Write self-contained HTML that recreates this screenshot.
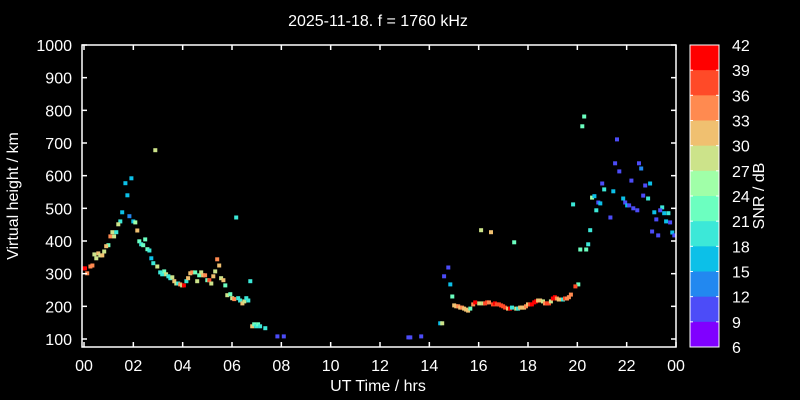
<!DOCTYPE html>
<html><head><meta charset="utf-8"><style>
html,body{margin:0;padding:0;background:#000;width:800px;height:400px;overflow:hidden}
svg text{font-family:"Liberation Sans",sans-serif;fill:#fff}
</style></head><body>
<svg id="chart" width="800" height="400" xmlns="http://www.w3.org/2000/svg">
<rect width="800" height="400" fill="#000"/>
<text x="378" y="26" font-size="16" text-anchor="middle">2025-11-18. f = 1760 kHz</text>
<text x="378" y="391" font-size="16" text-anchor="middle">UT Time / hrs</text>
<text transform="translate(18,196) rotate(-90)" font-size="16" text-anchor="middle">Virtual height / km</text>
<text transform="translate(764,196) rotate(-90)" font-size="16" text-anchor="middle">SNR / dB</text>
<g id="marks"></g>
<g id="axes"></g>
<g id="cbar"></g>
</svg>
<script>
const xTickLabels=["00","02","04","06","08","10","12","14","16","18","20","22","00"];
const yTickValues=[100,200,300,400,500,600,700,800,900,1000];
const cbarLabels=[42,39,36,33,30,27,24,21,18,15,12,9,6];
const bandColors=["#ff0000","#ff4a28","#ff8a50","#f0c070","#cce38a","#a0ffa8","#6cffc0","#3ce8d8","#0cc0e8","#2288f0","#4c4cf8","#8000ff"];
const times=[2.89,1.92,1.68,1.76,1.55,1.84,2.0,2.08,1.47,1.39,1.15,1.31,1.07,1.22,0.99,0.90,0.82,0.42,0.58,0.66,0.74,0.50,0.04,0.0,0.26,0.34,0.13,2.16,2.24,2.48,2.32,2.40,2.57,2.65,2.73,2.81,2.97,3.09,3.17,3.25,3.33,3.42,3.50,3.58,3.66,3.74,3.82,3.90,3.98,4.05,4.15,4.22,4.31,4.39,4.51,4.59,4.67,4.75,4.83,4.91,5.0,5.08,5.16,5.24,5.32,5.40,5.48,5.56,5.65,5.73,5.81,5.93,6.01,6.09,6.17,6.25,6.33,6.42,6.50,6.58,6.66,6.74,6.82,6.90,6.98,7.06,7.14,7.35,7.84,8.1,
16.1,16.5,17.44,20.52,20.44,20.12,20.36,14.77,14.60,14.85,14.93,14.44,14.52,13.15,13.23,13.67,20.04,19.92,
15.01,15.09,15.17,15.25,15.33,15.41,15.49,15.57,15.66,15.78,15.86,16.02,16.18,16.26,16.34,16.42,16.58,16.66,16.74,16.82,16.91,16.99,17.07,17.19,17.27,17.35,17.52,17.60,17.68,17.76,17.84,17.92,18.0,18.08,18.16,18.25,18.33,18.41,18.49,18.61,18.69,18.77,18.85,18.93,19.01,19.09,19.17,19.25,19.34,19.42,19.50,19.58,19.66,19.74,
20.28,20.20,21.61,21.53,22.50,21.70,22.59,22.19,21.01,21.09,21.46,22.95,22.75,22.67,22.87,20.60,20.69,21.86,20.85,20.93,21.94,22.02,22.10,19.83,20.77,22.27,22.43,21.34,23.44,23.36,23.12,23.52,23.69,23.20,23.60,23.76,23.03,23.28,23.85,23.93];
const heights=[678,592,577,540,488,476,460,457,460,451,427,427,414,414,387,384,368,359,362,356,356,347,316,316,322,325,301,432,399,405,390,387,375,371,347,332,322,304,298,307,298,292,286,289,277,270,270,267,264,264,277,286,301,304,304,277,295,304,295,295,280,280,270,292,307,344,325,286,280,264,234,237,225,222,472,225,218,209,215,225,218,277,139,145,139,145,139,133,108,108,
433,427,396,433,390,374,374,319,292,267,230,148,148,105,105,108,267,261,
203,200,200,196,196,193,190,187,193,206,212,209,209,209,212,212,206,209,206,206,203,200,196,193,193,196,193,193,196,196,196,200,206,206,206,212,215,218,218,215,209,209,209,215,224,228,224,221,221,221,224,224,228,236,
781,751,711,638,638,613,622,585,576,558,552,576,570,539,530,533,537,530,518,515,518,509,509,512,494,500,494,472,503,494,488,485,485,466,460,457,429,417,426,417];
const snrs=[28,16,16,16,16,13,16,26,21,28,28,21,35,28,24,33,28,28,33,28,33,28,40,40,36,36,36,33,24,24,21,24,24,21,18,21,28,21,21,24,28,21,21,28,33,28,21,35,30,40,21,33,33,36,24,28,24,28,33,36,24,38,28,33,28,36,33,28,33,24,28,24,28,36,20,21,21,33,28,21,21,20,33,24,21,24,21,20,10,12,
28,33,24,20,20,24,24,12,10,16,24,16,28,10,10,12,24,38,
33,33,36,33,36,33,33,33,24,36,40,28,28,38,38,36,38,40,38,38,38,38,38,33,40,21,28,21,33,33,33,36,33,38,40,40,40,33,33,28,36,38,38,28,40,40,36,33,33,21,38,36,36,36,
24,24,12,10,10,12,15,10,12,20,16,16,12,12,21,27,16,16,12,16,12,16,10,20,20,12,10,10,20,10,16,16,21,12,16,12,10,10,16,12];
const NS="http://www.w3.org/2000/svg";
const X0=84,X1=676,PL=82,PR=676,PT=45,PB=347;
function xS(t){return X0+t*(X1-X0)/24;}
function yS(h){return 339-(h-100)*294/900;}
function col(s){let i=Math.floor((42-s)/3);if(s>=39)i=0;i=Math.max(0,Math.min(11,i));return bandColors[i];}
function mk(tag,a){const e=document.createElementNS(NS,tag);for(const k in a)e.setAttribute(k,a[k]);return e;}
const marks=document.getElementById('marks');
for(let i=0;i<times.length;i++){
  const r=mk('rect',{x:(xS(times[i])-2).toFixed(1),y:(yS(heights[i])-2).toFixed(1),width:4,height:4,fill:col(snrs[i])});
  
  
  marks.appendChild(r);
}
const ax=document.getElementById('axes');
const frame=mk('rect',{x:PL,y:PT,width:PR-PL,height:PB-PT,fill:'none',stroke:'#fff','stroke-width':1.5});


ax.appendChild(frame);
xTickLabels.forEach((l,i)=>{const x=xS(i*2);
  ax.appendChild(mk('line',{x1:x,x2:x,y1:PB,y2:PB-5,stroke:'#fff','stroke-width':1.5}));
  ax.appendChild(mk('line',{x1:x,x2:x,y1:PT,y2:PT+5,stroke:'#fff','stroke-width':1.5}));
  const t=mk('text',{x:x,y:371,'font-size':16,'text-anchor':'middle'});t.textContent=l;
  
  
  ax.appendChild(t);});
yTickValues.forEach(v=>{const y=yS(v);
  ax.appendChild(mk('line',{x1:PL,x2:PL+5,y1:y,y2:y,stroke:'#fff','stroke-width':1.5}));
  ax.appendChild(mk('line',{x1:PR,x2:PR-5,y1:y,y2:y,stroke:'#fff','stroke-width':1.5}));
  const t=mk('text',{x:72,y:y+6,'font-size':16,'text-anchor':'end'});t.textContent=v;
  
  
  ax.appendChild(t);});
const cb=document.getElementById('cbar');
const CT=45,CB=347,CX=690,CW=29,bh=(CB-CT)/12;
bandColors.forEach((c,i)=>{const r=mk('rect',{x:CX,y:CT+i*bh,width:CW,height:bh+0.5,fill:c});
  
  
  cb.appendChild(r);});
cb.appendChild(mk('rect',{x:CX,y:CT,width:CW,height:CB-CT,fill:'none',stroke:'#fff','stroke-width':1}));
cbarLabels.forEach((l,i)=>{const y=CT+i*bh;
  cb.appendChild(mk('line',{x1:CX,x2:CX+3,y1:y,y2:y,stroke:'#fff'}));
  cb.appendChild(mk('line',{x1:CX+CW,x2:CX+CW-3,y1:y,y2:y,stroke:'#fff'}));
  const t=mk('text',{x:732,y:y+6,'font-size':16});t.textContent=l;
  
  
  cb.appendChild(t);});
</script>
</body></html>
